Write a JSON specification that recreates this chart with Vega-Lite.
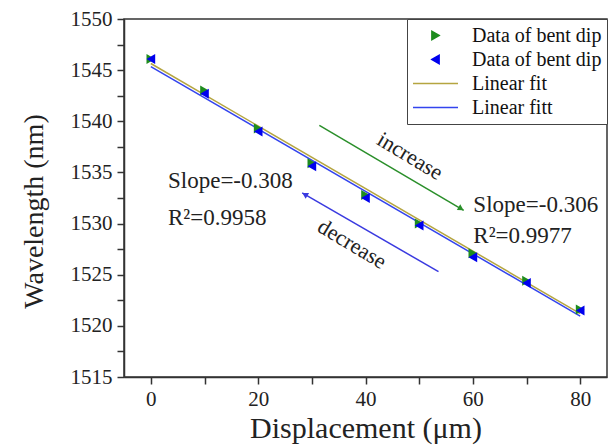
{
  "$schema": "https://vega.github.io/schema/vega-lite/v6.json",
  "width": 483,
  "height": 358,
  "autosize": "none",
  "padding": {"left": 124, "top": 19, "right": 6, "bottom": 69},
  "background": "white",
  "config": {
    "view": {"stroke": "#333", "strokeWidth": 1.5},
    "font": "Liberation Serif",
    "style": {"guide-label": {"font": "Liberation Serif"}, "guide-title": {"font": "Liberation Serif"}},
    "axis": {
      "domainColor": "#333", "domainWidth": 1.5,
      "tickColor": "#333", "tickWidth": 1.5, "tickSize": 7,
      "labelFont": "Liberation Serif", "labelFontSize": 21, "labelColor": "#222",
      "titleFont": "Liberation Serif", "titleFontWeight": "normal", "titleColor": "#222",
      "grid": false, "labelFlush": false, "labelOverlap": false, "labelBound": false
    },
    "legend": {"labelFont": "Liberation Serif"}
  },
  "datasets": {
    "pts": [
      {"s": "inc_pts", "x": 0, "y": 1546.1},
      {"s": "inc_pts", "x": 10, "y": 1543.0},
      {"s": "inc_pts", "x": 20, "y": 1539.3},
      {"s": "inc_pts", "x": 30, "y": 1535.9},
      {"s": "inc_pts", "x": 40, "y": 1532.8},
      {"s": "inc_pts", "x": 50, "y": 1530.0},
      {"s": "inc_pts", "x": 60, "y": 1527.1},
      {"s": "inc_pts", "x": 70, "y": 1524.4},
      {"s": "inc_pts", "x": 80, "y": 1521.6},
      {"s": "dec_pts", "x": 0, "y": 1546.1},
      {"s": "dec_pts", "x": 10, "y": 1542.7},
      {"s": "dec_pts", "x": 20, "y": 1539.0},
      {"s": "dec_pts", "x": 30, "y": 1535.6},
      {"s": "dec_pts", "x": 40, "y": 1532.5},
      {"s": "dec_pts", "x": 50, "y": 1529.8},
      {"s": "dec_pts", "x": 60, "y": 1526.7},
      {"s": "dec_pts", "x": 70, "y": 1524.2},
      {"s": "dec_pts", "x": 80, "y": 1521.5}
    ],
    "fits": [
      {"s": "inc_fit", "x": 0, "y": 1545.65},
      {"s": "inc_fit", "x": 80, "y": 1521.2},
      {"s": "dec_fit", "x": 0, "y": 1545.35},
      {"s": "dec_fit", "x": 80, "y": 1520.95}
    ],
    "arrows": [
      {"a": "inc", "x": 31.4, "y": 1539.6},
      {"a": "inc", "x": 58.3, "y": 1531.3},
      {"a": "dec", "x": 53.6, "y": 1525.3},
      {"a": "dec", "x": 28.2, "y": 1533.0}
    ],
    "heads": [
      {"a": "inc", "x": 57.8, "y": 1531.45},
      {"a": "dec", "x": 28.7, "y": 1532.85}
    ],
    "notes": [
      {"t": "Slope=-0.308", "x": 3.2, "y": 1533.5},
      {"t": "R²=0.9958", "x": 3.2, "y": 1529.9},
      {"t": "Slope=-0.306", "x": 60.1, "y": 1531.1},
      {"t": "R²=0.9977", "x": 60.1, "y": 1528.1}
    ],
    "dirs": [
      {"t": "increase", "x": 48.3, "y": 1536.6},
      {"t": "decrease", "x": 37.5, "y": 1528.0}
    ]
  },
  "encoding": {
    "x": {
      "field": "x", "type": "quantitative",
      "scale": {"domain": [-5, 85], "nice": false, "zero": false},
      "axis": {
        "title": "Displacement (μm)",
        "titleFontSize": 30,
        "values": [0, 10, 20, 30, 40, 50, 60, 70, 80],
        "labelOpacity": {"condition": {"test": "datum.value % 20 == 0", "value": 1}, "value": 0},
        "labelPadding": 4,
        "titlePadding": 4,
        "encode": {
          "ticks": {"update": {"y2": {"signal": "datum.value % 20 == 0 ? 7 : 4"}}}
        }
      }
    },
    "y": {
      "field": "y", "type": "quantitative",
      "scale": {"domain": [1515, 1550], "nice": false, "zero": false},
      "axis": {
        "title": "Wavelength (nm)",
        "titleFontSize": 28,
        "titleY": 192,
        "values": [1515, 1517.5, 1520, 1522.5, 1525, 1527.5, 1530, 1532.5, 1535, 1537.5, 1540, 1542.5, 1545, 1547.5, 1550],
        "format": "d",
        "labelOpacity": {"condition": {"test": "datum.value % 5 == 0", "value": 1}, "value": 0},
        "labelPadding": 5,
        "titlePadding": 22,
        "encode": {
          "ticks": {"update": {"x2": {"signal": "datum.value % 5 == 0 ? -7 : -4"}}}
        }
      }
    }
  },
  "layer": [
    {
      "data": {"name": "fits"},
      "mark": {"type": "line", "strokeWidth": 1.5},
      "encoding": {
        "color": {
          "field": "s", "type": "nominal",
          "scale": {"domain": ["inc_pts", "dec_pts", "inc_fit", "dec_fit"], "range": ["#1e8c1e", "#0000ee", "#b5a540", "#3344ee"]},
          "legend": {
            "title": null, "orient": "top-right", "offset": 0, "padding": 5,
            "strokeColor": "#444", "fillColor": "white",
            "labelFont": "Liberation Serif", "labelFontSize": 20, "labelColor": "#111", "labelLimit": 300,
            "symbolSize": 400, "symbolStrokeWidth": 1.5, "rowPadding": 1, "clipHeight": 23, "labelOffset": 13,
            "encode": {
              "symbols": {
                "update": {
                  "shape": {"signal": "datum.value == 'inc_pts' ? 'triangle-right' : datum.value == 'dec_pts' ? 'triangle-left' : 'stroke'"},
                  "size": {"signal": "(datum.value == 'inc_pts' || datum.value == 'dec_pts') ? 70 : 2025"},
                  "fill": {"signal": "scale('color', datum.value)"},
                  "stroke": {"signal": "scale('color', datum.value)"}
                }
              },
              "labels": {
                "update": {
                  "text": {"signal": "datum.value == 'inc_fit' ? 'Linear fit' : datum.value == 'dec_fit' ? 'Linear fitt' : 'Data of bent dip'"}
                }
              }
            }
          }
        }
      }
    },
    {
      "data": {"name": "pts"},
      "mark": {"type": "point", "filled": true, "size": 100, "opacity": 1},
      "encoding": {
        "color": {
          "field": "s", "type": "nominal",
          "scale": {"domain": ["inc_pts", "dec_pts", "inc_fit", "dec_fit"], "range": ["#1e8c1e", "#0000ee", "#b5a540", "#3344ee"]}
        },
        "shape": {
          "field": "s", "type": "nominal",
          "scale": {"domain": ["inc_pts", "dec_pts"], "range": ["triangle-right", "triangle-left"]},
          "legend": null
        }
      }
    },
    {
      "data": {"name": "arrows"},
      "transform": [{"filter": "datum.a == 'inc'"}],
      "mark": {"type": "line", "color": "#2a8f2a", "strokeWidth": 1.5},
      "encoding": {}
    },
    {
      "data": {"name": "arrows"},
      "transform": [{"filter": "datum.a == 'dec'"}],
      "mark": {"type": "line", "color": "#3a3ae0", "strokeWidth": 1.5},
      "encoding": {}
    },
    {
      "data": {"name": "heads"},
      "transform": [{"filter": "datum.a == 'inc'"}],
      "mark": {"type": "point", "shape": "triangle-right", "angle": 31, "filled": true, "size": 45, "color": "#2a8f2a", "opacity": 1},
      "encoding": {}
    },
    {
      "data": {"name": "heads"},
      "transform": [{"filter": "datum.a == 'dec'"}],
      "mark": {"type": "point", "shape": "triangle-left", "angle": 31, "filled": true, "size": 45, "color": "#3a3ae0", "opacity": 1},
      "encoding": {}
    },
    {
      "data": {"name": "notes"},
      "mark": {"type": "text", "align": "left", "baseline": "alphabetic", "fontSize": 23, "font": "Liberation Serif", "color": "#222"},
      "encoding": {"text": {"field": "t"}}
    },
    {
      "data": {"name": "dirs"},
      "mark": {"type": "text", "align": "center", "baseline": "middle", "fontSize": 22, "font": "Liberation Serif", "color": "#222", "angle": 31},
      "encoding": {"text": {"field": "t"}}
    }
  ]
}
